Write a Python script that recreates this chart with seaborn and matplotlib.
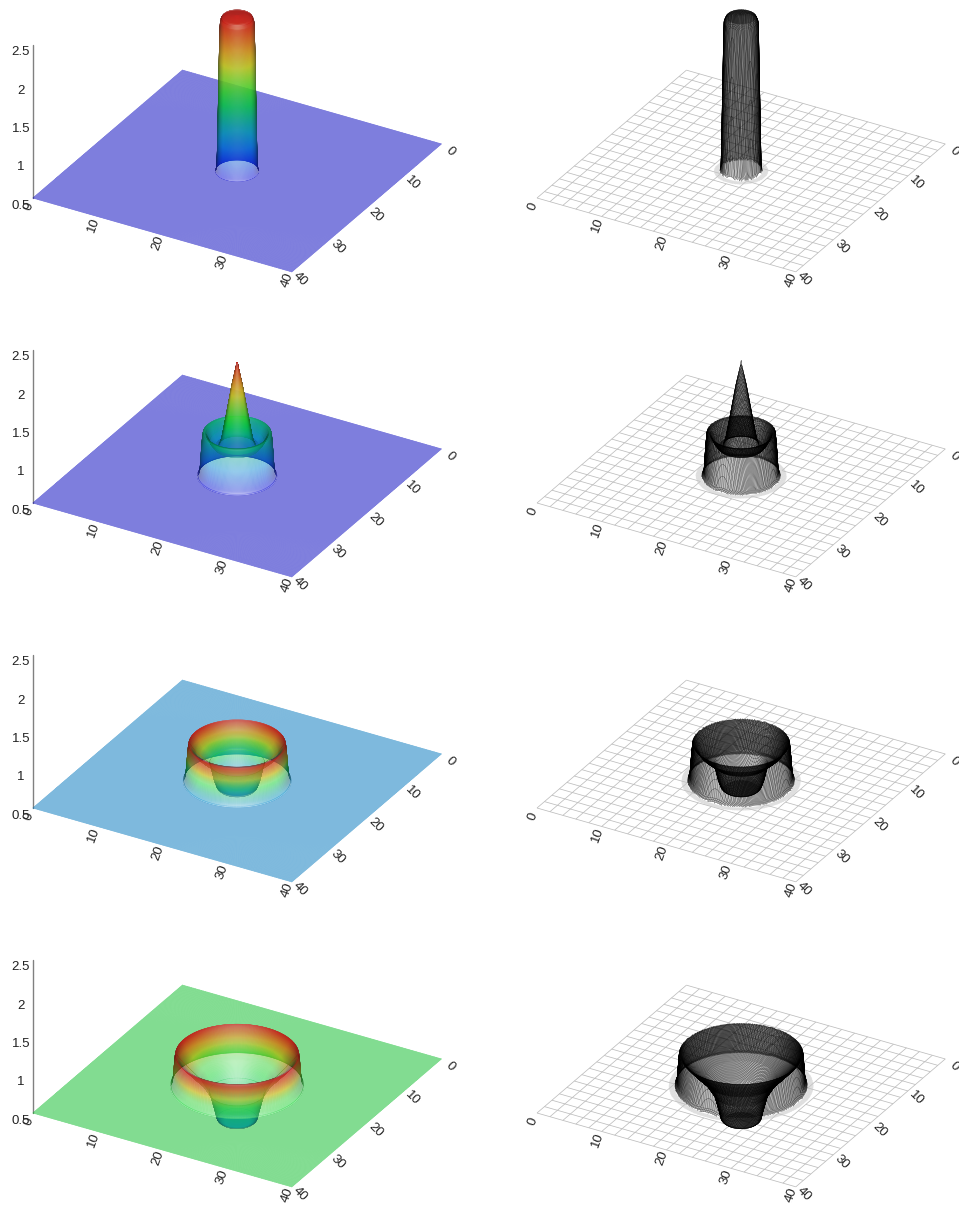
import numpy as np
import matplotlib
matplotlib.use("Agg")
import matplotlib.pyplot as plt
from matplotlib.colors import LinearSegmentedColormap
from mpl_toolkits.mplot3d import proj3d
import seaborn as sns

# ---- values ----
xy_ticks = [0, 10, 20, 30, 40]
z_ticks = [0.5, 1, 1.5, 2, 2.5]
z_tick_labels = ["0.5", "1", "1.5", "2", "2.5"]

r1 = [0, 2.0, 2.33, 2.7, 2.85, 60]
h1 = [2.53, 2.51, 2.44, 0.56, 0.5, 0.5]
r2 = [0, 0.12, 0.71, 1.56, 2.1, 2.4, 3.0, 3.6, 4.2, 4.6, 4.8, 5.0, 5.3, 60]
h2 = [2.01, 1.94, 1.69, 1.25, 0.98, 0.9, 0.88, 0.95, 1.06, 1.07, 0.85, 0.55, 0.5, 0.5]
r3 = [0, 2.3, 2.7, 3.1, 3.6, 4.5, 5.5, 6.2, 6.5, 6.7, 6.9, 7.2, 60]
h3 = [0.4, 0.4, 0.43, 0.53, 0.73, 0.8, 0.88, 0.97, 1.0, 0.8, 0.56, 0.5, 0.5]
r4 = [0, 2.3, 2.7, 2.95, 3.6, 4.9, 6.5, 7.6, 8.1, 8.3, 8.45, 8.6, 8.9, 60]
h4 = [0.05, 0.05, 0.08, 0.18, 0.4, 0.59, 0.74, 0.85, 0.91, 0.92, 0.75, 0.56, 0.5, 0.5]

col_z1, col_t1 = [0.5, 2.53], [0, 1]
col_z2, col_t2 = [0.5, 2.01], [0, 1]
col_z3, col_t3 = [0.4, 0.5, 0.72, 0.84, 1.0], [0.1, 0.2, 0.48, 0.74, 1]
col_z4, col_t4 = [0.05, 0.5, 0.62, 0.76, 0.92], [0.3, 0.47, 0.52, 0.76, 1]

stops = [0, 0.2, 0.35, 0.47, 0.72, 1]
stop_colors = [(0, 0, 1), (0, 0.63, 1), (0, 0.8, 0.6), (0.04, 1, 0.2), (0.95, 0.9, 0.15), (0.95, 0.1, 0.1)]

panels = [
    (r1, h1, col_z1, col_t1, 2.95),
    (r2, h2, col_z2, col_t2, 5.4),
    (r3, h3, col_z3, col_t3, 7.3),
    (r4, h4, col_z4, col_t4, 9.0),
]

sns.set_theme(style="white")
plt.rcParams["font.family"] = ["Liberation Sans", "DejaVu Sans"]
cmap = LinearSegmentedColormap.from_list("surf", list(zip(stops, stop_colors)))

ELEV, AZIM = 29.6, 30
ROW_STEP = 305
LEFT_PX = {0: (33, 198), 1: (537, 198)}
RIGHT_PX = {0: (441, 142), 1: (945, 142)}
W, H = 959, 1205
ZS = 11.8
BOX = (1, 1, 0.59)
ALPHA_FACING, ALPHA_AWAY, ALPHA_WARM = 0.51, 0.75, 0.8

fig = plt.figure(figsize=(W / 100, H / 100), dpi=100, facecolor="white")


def make_filter(a0):
    def f(img, dpi):
        out = img.copy()
        warm = np.clip((out[..., 0] - out[..., 2]) * 1.4, 0, 1)
        out[..., 3] *= np.sqrt(a0 + (max(a0, ALPHA_WARM) - a0) * warm)
        return out, 0, 0
    return f


def place(ax, lpx, rpx):
    def corners():
        ax.apply_aspect()
        M = ax.get_proj()
        out = []
        for c in [(40, 0, 0.5), (0, 40, 0.5)]:
            xs, ys, _ = proj3d.proj_transform(*c, M)
            out.append(ax.transData.transform((xs, ys)))
        return out
    a, b = corners()
    target = np.array([rpx[0] - lpx[0], -(rpx[1] - lpx[1])], float)
    zoom = np.linalg.norm(target) / np.linalg.norm(b - a)
    ax.set_box_aspect(BOX, zoom=zoom)
    a, b = corners()
    dx = lpx[0] - a[0]
    dy = (H - lpx[1]) - a[1]
    p = ax.get_position(original=True)
    ax.set_position([p.x0 + dx / W, p.y0 + dy / H, p.width, p.height])


def make_axes(col, row):
    ax = fig.add_axes([0.02, 0.02, 800 / W, 800 / H], projection="3d", proj_type="ortho",
                      computed_zorder=False)
    ax.view_init(elev=ELEV, azim=AZIM)
    ax.set_xlim(0, 40, view_margin=0)
    ax.set_ylim(0, 40, view_margin=0)
    ax.set_zlim(0.5, 2.5, view_margin=0)
    ax.set_box_aspect(BOX)
    ax.patch.set_visible(False)
    place(ax, (LEFT_PX[col][0], LEFT_PX[col][1] + row * ROW_STEP),
          (RIGHT_PX[col][0], RIGHT_PX[col][1] + row * ROW_STEP))
    ax.grid(False)
    for axis in (ax.xaxis, ax.yaxis, ax.zaxis):
        axis.set_pane_color((1, 1, 1, 0))
        axis.pane.set_edgecolor((1, 1, 1, 0))
        axis.line.set_color((0, 0, 0, 0))
        axis._axinfo["tick"]["inward_factor"] = 0
        axis._axinfo["tick"]["outward_factor"] = 0
        axis._axinfo["tick"]["linewidth"] = {True: 0, False: 0}
    ax.set_xticks(xy_ticks)
    ax.set_yticks(xy_ticks)
    ax.tick_params(axis="x", labelrotation=-45, pad=2, labelsize=9.5, colors="#222222")
    ax.tick_params(axis="y", labelrotation=70, pad=1, labelsize=9.5, colors="#222222")
    for t in ax.get_xticklabels() + ax.get_yticklabels():
        t.set_ha("center")
        t.set_va("center")
    if col == 0:
        ax.set_zticks(z_ticks)
        ax.set_zticklabels(z_tick_labels)
        ax.zaxis.set_ticks_position("lower")
        ax.zaxis.line.set_color("#808080")
        ax.zaxis.line.set_linewidth(1.0)
        ax.tick_params(axis="z", pad=1, labelsize=9.5, colors="#222222")
        for t in ax.get_zticklabels():
            t.set_va("top")
    else:
        ax.set_zticks([])
    return ax


el, az = np.radians(ELEV), np.radians(AZIM)
VIEW = (np.cos(el) * np.cos(az), np.cos(el) * np.sin(az), np.sin(el))


def radial_profile(rk, hk, foot):
    fine = np.arange(-1, foot + 1.0, 0.01)
    z = np.interp(np.abs(fine), rk, hk)
    n = 21
    z = np.convolve(z, np.ones(n) / n, mode="same")
    fine, z = fine[n:-n], z[n:-n]
    slope = np.gradient(z, fine) * ZS
    keep = (fine >= 0) & (fine <= foot)
    f, zf, sf = fine[keep], z[keep], slope[keep]
    arc = np.concatenate([[0], np.cumsum(np.hypot(np.diff(f), np.diff(zf) * ZS))])
    sample = np.arange(0, arc[-1], 0.14)
    return np.interp(sample, arc, f), np.interp(sample, arc, zf), np.interp(sample, arc, sf)


def shade_cells(R, TH, Zv, Sv, cz, ct):
    nrm = np.sqrt(1 + Sv ** 2)
    nx, ny, nz = -Sv * np.cos(TH) / nrm, -Sv * np.sin(TH) / nrm, 1 / nrm
    ndv = nx * VIEW[0] + ny * VIEW[1] + nz * VIEW[2]
    rgb = cmap(np.interp(Zv, cz, ct))[..., :3]
    diff = np.clip(0.35 + 0.78 * np.abs(ndv), 0, 0.82)
    spec = np.clip(ndv, 0, 1) ** 10 * 0.4
    col = rgb * diff[..., None]
    col = col + (1 - col) * spec[..., None]
    return np.dstack([col, np.ones(Zv.shape)])


def add_sheet(ax, rr, zz, ss, th, cz, ct, order, a0):
    R, TH = np.meshgrid(rr, th, indexing="ij")
    Zv = np.repeat(zz[:, None], len(th), axis=1)
    Sv = np.repeat(ss[:, None], len(th), axis=1)
    fc = shade_cells(R, TH, Zv, Sv, cz, ct)
    X = 20 + R * np.cos(TH)
    Y = 20 + R * np.sin(TH)
    c = ax.plot_surface(X, Y, Zv, facecolors=fc[:-1, :-1], rstride=1, cstride=1,
                        shade=False, linewidth=0.25, antialiased=True)
    c.set_agg_filter(make_filter(a0))
    c.set_zorder(order)


for row, (rk, hk, cz, ct, foot) in enumerate(panels):
    ax = make_axes(0, row)
    rr, zz, ss = radial_profile(rk, hk, foot)

    th_all = np.radians(np.arange(0, 360.5, 0.5))
    rmax = 20 / np.maximum(np.abs(np.cos(th_all)), np.abs(np.sin(th_all)))
    TH = np.vstack([th_all, th_all])
    Rf = np.vstack([np.full(th_all.shape, rr[-1] + 0.1), rmax])
    Zf = np.full(Rf.shape, 0.5)
    fc = shade_cells(Rf, TH, Zf, np.zeros(Rf.shape), cz, ct)
    c = ax.plot_surface(20 + Rf * np.cos(TH), 20 + Rf * np.sin(TH), Zf,
                        facecolors=fc[:-1, :-1], rstride=1, cstride=1, shade=False,
                        linewidth=0.6, antialiased=True)
    c.set_agg_filter(make_filter(ALPHA_FACING))
    c.set_zorder(1)

    cat = np.where(np.abs(ss) > 1.8, np.sign(ss), 0)
    breaks = [0] + list(np.nonzero(np.diff(cat))[0] + 1) + [len(rr) - 1]
    bands = [(a, b) for a, b in zip(breaks[:-1], breaks[1:]) if b > a]
    th_back = np.radians(np.arange(AZIM + 90, AZIM + 270.5, 1.5))
    th_front = np.radians(np.arange(AZIM - 90, AZIM + 90.5, 1.5))
    th_full = np.radians(np.arange(0, 360.5, 1.5))
    order = 2
    start = 1 if cat[1] == 0 else 0
    outer = list(range(start, len(bands)))
    for i in reversed(outer):
        a, b = bands[i]
        a0 = ALPHA_AWAY if cat[a + 1] < 0 else ALPHA_FACING
        add_sheet(ax, rr[a:b + 1], zz[a:b + 1], ss[a:b + 1], th_back, cz, ct, order, a0)
        order += 1
    if start == 1:
        a, b = bands[0]
        add_sheet(ax, rr[a:b + 1], zz[a:b + 1], ss[a:b + 1], th_full, cz, ct, order, ALPHA_FACING)
        order += 1
    for i in outer:
        a, b = bands[i]
        a0 = ALPHA_AWAY if cat[a + 1] > 0 else ALPHA_FACING
        add_sheet(ax, rr[a:b + 1], zz[a:b + 1], ss[a:b + 1], th_front, cz, ct, order, a0)
        order += 1

    ax = make_axes(1, row)
    gc = np.arange(0, 41, 2.0)
    Xc, Yc = np.meshgrid(gc, gc, indexing="ij")
    Zc = np.full(Xc.shape, 0.5)
    Zc[np.hypot(Xc - 20, Yc - 20) < foot - 0.5] = np.nan
    w = ax.plot_wireframe(Xc, Yc, Zc, rstride=1, cstride=1, color="#bdbdbd", linewidth=0.55)
    w.set_zorder(1)
    half = foot + 1.2
    step = 0.1
    gf = np.arange(20 - half, 20 + half + step / 2, step)
    Xf, Yf = np.meshgrid(gf, gf, indexing="ij")
    Rw = np.hypot(Xf - 20, Yf - 20)
    Zw = np.interp(Rw, rk, hk)
    collar = Zw.copy()
    collar[(Rw < foot - 0.1) | (Rw > foot + 0.7)] = np.nan
    w = ax.plot_wireframe(Xf, Yf, collar, rstride=1, cstride=1, color="#c8c8c8", linewidth=0.12)
    w.set_zorder(2)
    Zw[Rw > foot - 0.1] = np.nan
    w = ax.plot_wireframe(Xf, Yf, Zw, rstride=1, cstride=1, color="black", linewidth=0.18)
    w.set_zorder(3)

fig.savefig("out.png", dpi=100)
